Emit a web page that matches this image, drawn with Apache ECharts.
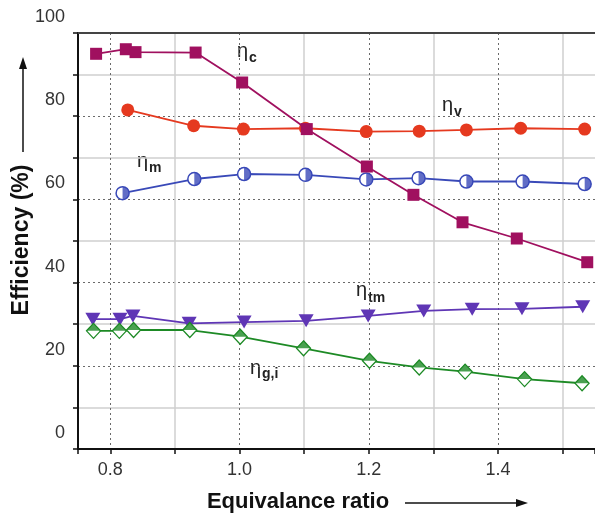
<!DOCTYPE html>
<html>
<head>
<meta charset="utf-8">
<script src="https://cdn.jsdelivr.net/npm/echarts@6/dist/echarts.min.js"></script>
<style>
html,body{margin:0;padding:0;background:#fff;}
#chart{width:595px;height:517px;}
</style>
</head>
<body>
<div id="chart"></div>
<script>
// ---- data ----
var xTickLabels = ['0.8', '1.0', '1.2', '1.4'];
var yTickLabels = ['0', '20', '40', '60', '80', '100'];

var phiC = [0.778, 0.824, 0.839, 0.932, 1.004, 1.104, 1.197, 1.269, 1.345, 1.429, 1.538];
var etaC = [95.0, 96.1, 95.4, 95.3, 88.1, 76.9, 67.9, 61.1, 54.5, 50.6, 44.9];

var phiV = [0.827, 0.929, 1.006, 1.102, 1.196, 1.278, 1.351, 1.435, 1.534];
var etaV = [81.5, 77.7, 76.9, 77.1, 76.3, 76.4, 76.7, 77.1, 76.9];

var phiM = [0.819, 0.930, 1.007, 1.102, 1.196, 1.277, 1.351, 1.438, 1.534];
var etaM = [61.5, 64.9, 66.1, 65.9, 64.8, 65.1, 64.3, 64.3, 63.7];

var phiTM = [0.773, 0.815, 0.835, 0.922, 1.007, 1.103, 1.199, 1.285, 1.360, 1.437, 1.531];
var etaTM = [31.2, 31.2, 32.0, 30.2, 30.5, 30.8, 32.0, 33.2, 33.6, 33.7, 34.2];

var phiGI = [0.774, 0.814, 0.836, 0.923, 1.001, 1.099, 1.201, 1.278, 1.349, 1.441, 1.530];
var etaGI = [28.4, 28.4, 28.6, 28.6, 27.0, 24.2, 21.2, 19.6, 18.6, 16.8, 15.8];

function pairs(xs, ys) { return xs.map(function (x, i) { return [x, ys[i]]; }); }

var cC = '#a0105f', cV = '#e5391f', cM = '#3949b8', cTM = '#5f36b5', cGI = '#1d8a25';
var FONT = '"Liberation Sans", Arial, sans-serif';

var halfRight = 'path://M-10,-10 M10,10 M0,-10 A10,10 0 0 1 0,10 Z';
var topHalfDiamond = 'path://M-10,-10 M10,10 M-10,0 L0,-10 L10,0 Z';

var chart = echarts.init(document.getElementById('chart'));
var option = {
  animation: false,
  backgroundColor: '#fff',
  grid: { left: 78, top: 33, width: 518, height: 416, containLabel: false },
  xAxis: [{
    type: 'value', min: 0.75, max: 1.55, minInterval: 0.2, maxInterval: 0.2,
    axisLine: { lineStyle: { color: '#111', width: 2 } },
    axisTick: { show: true, inside: false, length: 5, lineStyle: { color: '#111', width: 1.5 } },
    minorTick: { show: true, splitNumber: 2, length: 5, lineStyle: { color: '#111', width: 1.5 } },
    splitLine: { show: true, lineStyle: { type: [2, 3], color: '#6a6a6a', width: 1 } },
    minorSplitLine: { show: true, lineStyle: { color: '#cfcfcf', width: 1.5 } },
    axisLabel: {
      showMinLabel: false, showMaxLabel: false, margin: 12,
      fontFamily: FONT, fontSize: 18, color: '#333',
      formatter: function (v) { var s = v.toFixed(1); return xTickLabels.indexOf(s) >= 0 ? s : ''; }
    }
  }, {
    type: 'value', position: 'top', min: 0.75, max: 1.55,
    axisLine: { show: true, onZero: false, lineStyle: { color: '#444', width: 2 } },
    axisTick: { show: false }, axisLabel: { show: false }, splitLine: { show: false }
  }],
  yAxis: {
    type: 'value', min: 0, max: 100, interval: 20,
    axisLine: { show: true, lineStyle: { color: '#111', width: 2 } },
    axisTick: { show: true, inside: false, length: 5, lineStyle: { color: '#111', width: 1.5 } },
    minorTick: { show: true, splitNumber: 2, length: 5, lineStyle: { color: '#111', width: 1.5 } },
    splitLine: { show: true, lineStyle: { type: [2, 3], color: '#6a6a6a', width: 1 } },
    minorSplitLine: { show: true, lineStyle: { color: '#cfcfcf', width: 1.5 } },
    axisLabel: {
      margin: 13, verticalAlign: 'bottom', lineHeight: 32,
      fontFamily: FONT, fontSize: 18, color: '#333',
      formatter: function (v) { var s = String(Math.round(v)); return yTickLabels.indexOf(s) >= 0 ? s : ''; }
    }
  },
  series: [
    { type: 'line', data: pairs(phiV, etaV), symbol: 'circle', symbolSize: 13,
      itemStyle: { color: cV }, lineStyle: { color: cV, width: 1.8 }, z: 3 },
    { type: 'line', data: pairs(phiM, etaM), symbol: 'circle', symbolSize: 13,
      itemStyle: { color: '#fff', borderColor: cM, borderWidth: 1.5 }, lineStyle: { color: cM, width: 1.8 }, z: 3 },
    { type: 'scatter', data: pairs(phiM, etaM), symbol: halfRight, symbolSize: 13,
      itemStyle: { color: cM }, z: 4 },
    { type: 'line', data: pairs(phiTM, etaTM), symbol: 'triangle', symbolRotate: 180, symbolSize: [15, 13],
      itemStyle: { color: cTM }, lineStyle: { color: cTM, width: 1.8 }, z: 3 },
    { type: 'line', data: pairs(phiGI, etaGI), symbol: 'diamond', symbolSize: [14, 15],
      itemStyle: { color: '#fff', borderColor: cGI, borderWidth: 1.3 }, lineStyle: { color: cGI, width: 1.8 }, z: 3 },
    { type: 'scatter', data: pairs(phiGI, etaGI), symbol: topHalfDiamond, symbolSize: [14, 15],
      itemStyle: { color: cGI }, z: 4 },
    { type: 'line', data: pairs(phiC, etaC), symbol: 'rect', symbolSize: 12,
      itemStyle: { color: cC }, lineStyle: { color: cC, width: 1.8 }, z: 5 }
  ],
  graphic: [
    // series labels
    { type: 'text', left: 237, top: 41, style: { text: 'η', font: '20px ' + FONT, fill: '#222' } },
    { type: 'text', left: 249, top: 51, style: { text: 'c', font: 'bold 14px ' + FONT, fill: '#222' } },
    { type: 'text', left: 442, top: 95, style: { text: 'η', font: '20px ' + FONT, fill: '#222' } },
    { type: 'text', left: 454, top: 105, style: { text: 'v', font: 'bold 14px ' + FONT, fill: '#222' } },
    { type: 'text', left: 137, top: 151, style: { text: 'η', font: '20px ' + FONT, fill: '#222' } },
    { type: 'text', left: 149, top: 161, style: { text: 'm', font: 'bold 14px ' + FONT, fill: '#222' } },
    { type: 'text', left: 356, top: 280, style: { text: 'η', font: '20px ' + FONT, fill: '#222' } },
    { type: 'text', left: 368, top: 291, style: { text: 'tm', font: 'bold 14px ' + FONT, fill: '#222' } },
    { type: 'text', left: 250, top: 358, style: { text: 'η', font: '20px ' + FONT, fill: '#222' } },
    { type: 'text', left: 262, top: 367, style: { text: 'g,i', font: 'bold 14px ' + FONT, fill: '#222' } },
    // axis titles
    { type: 'text', x: 298, y: 502, style: { text: 'Equivalance ratio', font: 'bold 22px ' + FONT, fill: '#111', align: 'center', verticalAlign: 'middle' } },
    { type: 'line', shape: { x1: 405, y1: 503, x2: 519, y2: 503 }, style: { stroke: '#111', lineWidth: 1.5 } },
    { type: 'polygon', shape: { points: [[528, 503], [516, 499], [516, 507]] }, style: { fill: '#111' } },
    { type: 'text', x: 22, y: 240, rotation: Math.PI / 2, style: { text: 'Efficiency (%)', font: 'bold 23px ' + FONT, fill: '#111', align: 'center', verticalAlign: 'middle' } },
    { type: 'line', shape: { x1: 23, y1: 152, x2: 23, y2: 66 }, style: { stroke: '#111', lineWidth: 1.5 } },
    { type: 'polygon', shape: { points: [[23, 57], [19, 69], [27, 69]] }, style: { fill: '#111' } }
  ]
};
chart.setOption(option);
</script>
</body>
</html>
